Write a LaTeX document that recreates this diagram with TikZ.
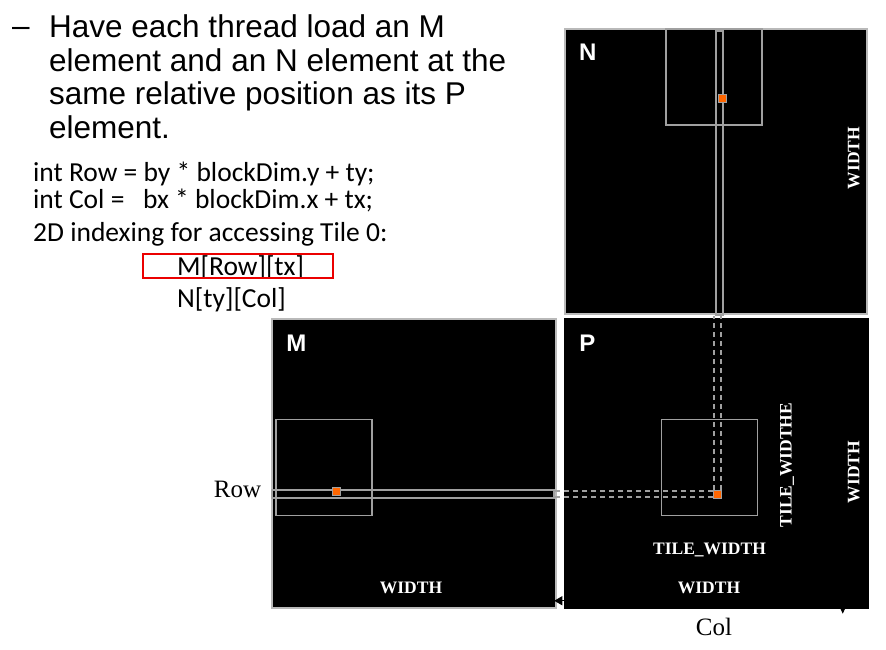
\documentclass[tikz,border=0pt]{standalone}
\usepackage{fontspec}
\setmainfont{Liberation Sans}
\newfontfamily\codefont{Carlito}
\newfontfamily\serifdim{Liberation Serif}
\usetikzlibrary{arrows.meta,positioning}
\definecolor{framegray}{RGB}{185,185,185}
\definecolor{tilegray}{RGB}{160,160,160}
\definecolor{dotorange}{RGB}{255,102,0}
\definecolor{hlred}{RGB}{235,0,0}

\begin{document}
\begin{tikzpicture}[x=1pt, y=-1pt,
    mat/.style={fill=black, draw=framegray, line width=1.5pt, inner sep=0pt},
    tile/.style={draw=tilegray, line width=1.3pt, inner sep=0pt, minimum size=96pt},
    strip/.style={draw=tilegray, line width=1.2pt, inner sep=0pt},
    elem/.style={fill=dotorange, draw=tilegray, line width=1pt, minimum size=8pt, inner sep=0pt},
    dashline/.style={draw=tilegray, line width=1.2pt, dash pattern=on 5pt off 4pt},
    mname/.style={text=white, font=\bfseries\fontsize{24}{24}\selectfont, inner sep=0pt},
    dimtext/.style={text=white, font=\serifdim\bfseries\fontsize{17.5}{18}\selectfont, inner sep=0pt},
    axislabel/.style={font=\serifdim\fontsize{25}{26}\selectfont, inner sep=0pt},
    codeline/.style={font=\codefont\fontsize{27.5}{30}\selectfont, anchor=base west, inner sep=0pt},
    hiddenarrow/.style={draw=black, line width=1pt, -{Triangle[length=8pt, width=9pt]}},
  ]
    \useasboundingbox (0,0) rectangle (886,650);

    % text on the left
    \node[font=\fontsize{31.5}{33.7}\selectfont, anchor=base west, inner sep=0pt] (dash) at (12,37) {--};
    \node[font=\fontsize{31.5}{33.7}\selectfont, align=left, anchor=north west, inner sep=0pt] (intro) at (49,14.5)
      {Have each thread load an M\\element and an N element at the\\same relative position as its P\\element.};

    \node[codeline] (rowdef) at (33,182) {int Row = by * blockDim.y + ty;};
    \node[codeline] (coldef) at (33,208) {int Col = \ \ bx * blockDim.x + tx;};
    \node[codeline] (idx) at (33,241) {2D indexing for accessing Tile 0:};
    \node[codeline] (mrow) at (177,275) {M[Row][tx]};
    \node[codeline] (ncol) at (177,307) {N[ty][Col]};
    \node[draw=hlred, line width=2.8pt, minimum width=190pt, minimum height=24pt, inner sep=0pt] (hl) at (238,266) {};

    % matrices
    \node[mat, minimum width=302pt, minimum height=285pt] (N) at (716,171.5) {};
    \node[mat, minimum width=284pt, minimum height=289pt] (M) at (414,463.5) {};
    \node[mat, draw=black, minimum width=303pt, minimum height=289pt] (P) at (716.5,463.5) {};

    % tiles and strips
    \node[tile] (tN) at (714,77) {};
    \node[tile] (tM) at (324,467.5) {};
    \node[tile] (tP) at (709.5,467.5) {};
    \node[strip, minimum width=7pt, minimum height=284pt] (sN) at (719.5,173) {};
    \node[strip, minimum width=282pt, minimum height=8pt] (sM) at (413,494) {};

    \draw[dashline] (714,490) -- (714,0 |- sN.south);
    \draw[dashline] (721,490) -- (721,0 |- sN.south);
    \draw[dashline] (713,491) -- (sM.east |- 0,491);
    \draw[dashline] (713,497) -- (sM.east |- 0,497);

    % elements
    \node[elem] (eN) at (722,99) {};
    \node[elem] (eM) at (336.5,491.5) {};
    \node[elem] (eP) at (717.5,494) {};

    % labels
    \node[mname] at ([shift={(23.5,23.5)}]N.north west) {N};
    \node[mname] at ([shift={(25,24.5)}]M.north west) {M};
    \node[mname] at ([shift={(23,25)}]P.north west) {P};

    \node[dimtext, rotate=90] at ([shift={(-14,-13.5)}]N.east) {WIDTH};
    \node[dimtext] at ([shift={(-3,-21)}]M.south) {WIDTH};
    \node[dimtext] at ([shift={(-7.5,-21)}]P.south) {WIDTH};
    \node[dimtext, rotate=90] at ([shift={(-15,8.5)}]P.east) {WIDTH};
    \node[dimtext] at ([shift={(0,34)}]tP.south) {TILE\_WIDTH};
    \node[dimtext, rotate=90] at ([shift={(29,-2.5)}]tP.east) {TILE\_WIDTHE};

    \node[axislabel, left=10pt of sM, yshift=5pt] (rowlab) {Row};
    \node[axislabel, below=9pt of P, xshift=-2.5pt] (collab) {Col};

    % arrows hidden on the black
    \coordinate (wbeg) at ([shift={(0,-8)}]P.south);
    \coordinate (wtip) at ([shift={(-10,-8)}]P.south west);
    \draw[hiddenarrow] (wbeg) -- (wtip);
    \coordinate (hbeg) at ([shift={(-26,-40)}]P.south east);
    \coordinate (htip) at ([shift={(-26,5)}]P.south east);
    \draw[hiddenarrow, -{Triangle[length=8pt, width=7pt]}] (hbeg) -- (htip);
  \end{tikzpicture}
\end{document}
